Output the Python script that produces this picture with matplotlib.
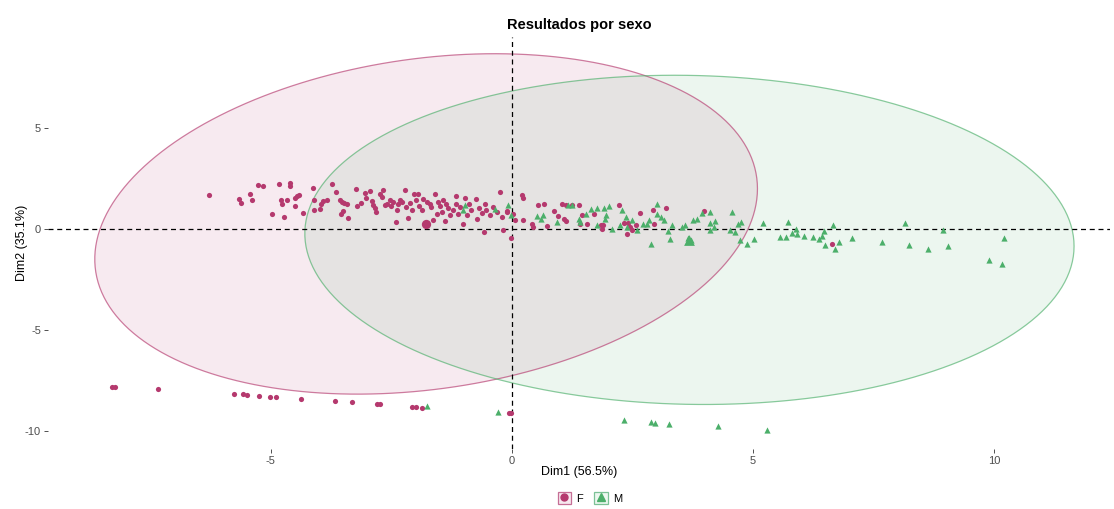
import numpy as np
import matplotlib
matplotlib.use('Agg')
import matplotlib.pyplot as plt
from matplotlib.patches import Polygon, Patch
from matplotlib.lines import Line2D
from matplotlib.legend_handler import HandlerTuple

plt.rcParams['font.family'] = ['Liberation Sans', 'DejaVu Sans']
plt.rcParams['axes.unicode_minus'] = False

PINK = '#B5396E'
GREEN = '#4CAF6A'

# individuals, F group (Dim1, Dim2)
f_points = [
    (-6.29, 1.70), (-5.66, 1.52), (-5.62, 1.30), (-5.44, 1.77), (-5.39, 1.44),
    (-5.26, 2.19), (-5.17, 2.16), (-4.83, 2.26), (-4.61, 2.29), (-4.61, 2.15),
    (-4.78, 1.47), (-4.67, 1.47), (-4.76, 1.27), (-4.50, 1.57), (-4.45, 1.63),
    (-4.41, 1.68), (-4.50, 1.14), (-4.97, 0.76), (-4.72, 0.59), (-4.33, 0.81),
    (-4.12, 2.05), (-4.10, 1.44), (-4.11, 0.97), (-3.98, 1.02), (-3.95, 1.24),
    (-3.91, 1.40), (-3.83, 1.44), (-3.73, 2.23), (-3.64, 1.83), (-3.57, 1.44),
    (-3.53, 1.34), (-3.49, 1.30), (-3.43, 1.27), (-3.51, 0.92), (-3.55, 0.74),
    (-3.40, 0.56), (-3.24, 1.98), (-3.22, 1.17), (-3.12, 1.30), (-3.05, 1.80),
    (-3.02, 1.57), (-2.95, 1.90), (-2.91, 1.40), (-2.89, 1.19), (-2.84, 1.07),
    (-2.81, 0.86), (-2.74, 1.73), (-2.70, 1.60), (-2.67, 1.96), (-2.63, 1.19),
    (-2.60, 1.27), (-2.53, 1.44), (-2.50, 1.14), (-2.46, 1.35), (-2.41, 0.35),
    (-2.39, 0.94), (-2.36, 1.24), (-2.32, 1.47), (-2.29, 1.35), (-2.22, 1.93),
    (-2.19, 1.11), (-2.15, 0.56), (-2.12, 1.30), (-2.08, 0.94), (-2.03, 1.73),
    (-1.99, 1.44), (-1.94, 1.73), (-1.92, 1.14), (-1.87, 0.94), (-1.84, 1.52),
    (-1.77, 1.35), (-1.76, 0.31), (-1.70, 1.27), (-1.67, 1.11), (-1.63, 0.45),
    (-1.60, 1.73), (-1.56, 0.78), (-1.53, 1.35), (-1.49, 1.14), (-1.46, 0.86),
    (-1.42, 1.44), (-1.39, 0.41), (-1.36, 1.27), (-1.32, 1.07), (-1.29, 0.69),
    (-1.22, 0.94), (-1.16, 1.65), (-1.15, 1.27), (-1.11, 0.78), (-1.07, 1.11),
    (-1.01, 0.25), (-0.98, 1.57), (-0.93, 0.69), (-0.89, 1.27), (-0.84, 0.94),
    (-0.75, 1.52), (-0.73, 0.51), (-0.68, 1.07), (-0.63, 0.81), (-0.59, -0.15),
    (-0.56, 1.27), (-0.53, 0.94), (-0.46, 0.69), (-0.39, 1.11), (-0.32, 0.86),
    (-0.24, 1.86), (-0.21, 0.61), (-0.18, -0.05), (-0.11, 0.86), (-0.02, -0.43),
    (0.06, 0.45), (0.20, 1.68), (0.22, 1.57), (0.22, 0.45), (0.41, 0.28),
    (0.44, 0.12), (0.55, 1.22), (-0.11, 0.91), (0.03, 0.78), (0.67, 1.24),
    (0.72, 0.17), (0.87, 0.91), (0.96, 0.66), (1.03, 1.27), (1.07, 0.53),
    (1.13, 0.41), (1.12, 1.19), (1.24, 1.19), (1.38, 1.19), (1.42, 0.28),
    (1.45, 0.69), (1.56, 0.28), (1.70, 0.78), (1.84, 0.23), (1.88, 0.20),
    (1.86, 0.03), (2.21, 1.22), (2.32, 0.31), (2.41, 0.31), (2.45, 0.12),
    (2.38, -0.25), (2.48, -0.05), (2.57, 0.20), (2.66, 0.81), (2.93, 0.97),
    (2.95, 0.25), (3.19, 1.06), (3.98, 0.91), (6.64, -0.71),
    (-8.30, -7.79), (-8.24, -7.79), (-7.34, -7.89), (-5.77, -8.18), (-5.57, -8.18),
    (-5.49, -8.22), (-5.24, -8.25), (-5.01, -8.30), (-4.90, -8.30), (-4.38, -8.40),
    (-3.67, -8.50), (-3.32, -8.55), (-2.79, -8.63), (-2.73, -8.63), (-2.08, -8.80),
    (-1.99, -8.80), (-1.87, -8.83), (-0.06, -9.08), (-0.01, -9.09),
]

# individuals, M group (Dim1, Dim2)
m_points = [
    (-0.98, 1.22), (-1.01, 0.94), (-0.35, 1.02), (-0.08, 1.22), (-0.03, 0.73),
    (0.51, 0.66), (0.60, 0.53), (0.65, 0.69), (0.94, 0.36), (1.17, 1.19),
    (1.24, 1.19), (1.38, 0.53), (1.41, 0.36), (1.54, 0.78), (1.64, 1.02),
    (1.77, 1.07), (1.91, 1.07), (2.02, 1.14), (1.93, 0.53), (1.95, 0.69),
    (1.76, 0.20), (2.07, 0.03), (2.28, 0.94), (2.25, 0.20), (2.37, 0.61),
    (2.39, 0.12), (2.48, 0.45), (2.60, -0.02), (2.71, 0.25), (2.79, 0.25),
    (2.85, 0.48), (2.88, -0.71), (3.00, 1.24), (3.00, 0.78), (3.09, 0.61),
    (3.15, 0.48), (3.24, -0.08), (3.28, -0.48), (3.31, 0.20), (3.52, 0.12),
    (3.59, 0.20), (3.66, -0.45), (3.72, -0.55), (3.75, 0.48), (3.83, 0.53),
    (3.93, 0.81), (4.11, 0.86), (4.11, -0.05), (4.10, 0.31), (4.18, 0.12),
    (4.21, 0.41), (4.56, 0.86), (4.52, -0.02), (4.63, -0.13), (4.68, 0.25),
    (4.74, 0.36), (4.73, -0.54), (4.87, -0.74), (5.01, -0.46), (5.21, 0.31),
    (5.73, 0.36), (5.55, -0.38), (5.69, -0.38), (5.80, -0.18), (5.89, 0.03),
    (5.91, -0.25), (6.05, -0.35), (6.24, -0.38), (6.36, -0.46), (6.43, -0.35),
    (6.47, -0.08), (6.49, -0.79), (6.65, 0.23), (6.70, -0.99), (6.78, -0.63),
    (7.06, -0.41), (7.67, -0.63), (8.15, 0.31), (8.24, -0.76), (8.63, -0.97),
    (8.94, -0.02), (9.04, -0.84), (9.90, -1.53), (10.16, -1.73), (10.20, -0.41),
    (-1.76, -8.76), (-0.28, -9.04), (2.33, -9.42), (2.88, -9.54), (2.97, -9.57),
    (3.26, -9.62), (4.28, -9.75), (5.28, -9.95),
]

# group means and ellipse shape (covariance-like matrix)
f_mean = (-1.78, 0.27)
m_mean = (3.68, -0.52)
f_shape = [[47.2, 12.0], [12.0, 71.1]]
m_shape = [[63.6, -2.5], [-2.5, 66.5]]

fig = plt.figure(figsize=(11.14, 5.09), dpi=100)
ax = fig.add_axes([48 / 1114, 60 / 509, 1062 / 1114, 412 / 509])

t = np.linspace(0, 2 * np.pi, 200)
circle = np.vstack([np.cos(t), np.sin(t)])
for mean, shape, col in [(f_mean, f_shape, PINK), (m_mean, m_shape, GREEN)]:
    L = np.linalg.cholesky(np.array(shape))
    pts = (L @ circle).T + np.array(mean)
    ax.add_patch(Polygon(pts, closed=True, facecolor=col, alpha=0.1,
                         edgecolor='none', zorder=1))
    ax.add_patch(Polygon(pts, closed=True, facecolor='none',
                         edgecolor=col, alpha=0.65, lw=0.9, zorder=2))

ax.axhline(0, color='black', ls=(0, (4, 3)), lw=0.9, zorder=3)
ax.axvline(0, color='black', ls=(0, (4, 3)), lw=0.9, zorder=3)

fx, fy = zip(*f_points)
mx, my = zip(*m_points)
ax.scatter(fx, fy, s=14, color=PINK, marker='o', lw=0, zorder=4)
ax.scatter(mx, my, s=20, color=GREEN, marker='^', lw=0, zorder=4)
ax.scatter([f_mean[0]], [f_mean[1]], s=45, color=PINK, marker='o', lw=0, zorder=5)
ax.scatter([m_mean[0]], [m_mean[1]], s=60, color=GREEN, marker='^', lw=0, zorder=5)

ax.set_xlim(-9.62, 12.4)
ax.set_ylim(-10.88, 9.53)
ax.set_xticks([-5, 0, 5, 10])
ax.set_yticks([-10, -5, 0, 5])
for s in ax.spines.values():
    s.set_visible(False)
ax.tick_params(length=3, width=0.6, color='#333333', labelcolor='#4D4D4D',
               labelsize=8, pad=2)

ax.set_xlabel('Dim1 (56.5%)', fontsize=9, labelpad=0)
ax.set_ylabel('Dim2 (35.1%)', fontsize=9, labelpad=-2)
ax.set_title('Resultados por sexo', fontsize=10.5, fontweight='bold', pad=6)

handles = [
    (Patch(facecolor='#F7E8EF', edgecolor='#C66E95', lw=0.9),
     Line2D([], [], marker='o', color=PINK, ls='none', markersize=5)),
    (Patch(facecolor='#EDF7F0', edgecolor='#7CC196', lw=0.9),
     Line2D([], [], marker='^', color=GREEN, ls='none', markersize=6)),
]
fig.legend(handles, ['F', 'M'], handler_map={tuple: HandlerTuple(ndivide=1)},
           loc='center', bbox_to_anchor=(590 / 1114, 1 - 498 / 509), ncol=2,
           frameon=False, fontsize=8, handlelength=1.2, handleheight=1.4,
           handletextpad=0.5, columnspacing=1.0)

fig.savefig('out.png', dpi=100)
